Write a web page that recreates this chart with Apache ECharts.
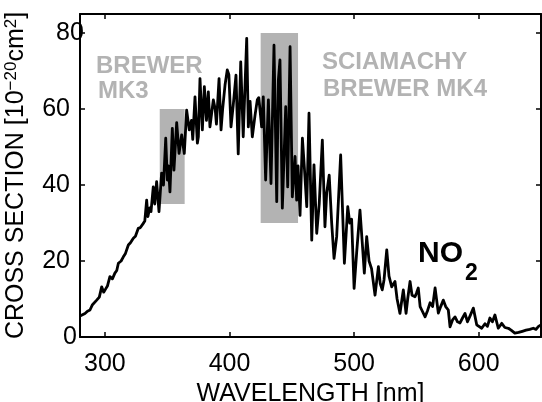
<!DOCTYPE html>
<html>
<head>
<meta charset="utf-8">
<script src="https://cdn.jsdelivr.net/npm/echarts@6/dist/echarts.min.js"></script>
<style>html,body{margin:0;padding:0;background:#fff}#c{width:542px;height:402px}</style>
</head>
<body>
<div id="c"></div>
<script>
// Wavelength (nm)
const wavelength = [280,281.4,284,286,288,290,291.5,293.4,295.5,297.4,299,300.5,302,304,306,308,309.5,310.8,313,314.8,316.5,317.5,318.8,320.5,322.8,324.5,326.8,328.5,330.8,332,333.5,334.5,336,337,338.8,340,341.5,343.4,345.5,347,348.8,350.1,351,352.2,354.1,355.4,357.6,359.5,361.6,363.7,365.6,367.7,369.5,370.5,372.3,374.2,375,376.3,378.2,379.8,381.5,383,384.3,387,388.5,389.5,391.6,393.2,394.5,396.4,398.2,399.5,401.2,403,405.2,407,409,411,413.8,415.1,416.5,418.3,420.5,422.3,423.5,425.8,427.1,429,431.2,433.3,435.7,437.9,439.2,440.5,442.4,445.1,446.7,448.6,450.4,452.6,453.9,455,456.6,458.5,460,462,463.8,466,467.8,470,472,474.5,476.6,478,480,482,483.9,486,489.2,492.2,494.9,496.5,498,500,502,504.7,506.5,508.2,510.1,512,514,516.8,519.5,521,522.6,524,526.2,528,530.2,532.8,534.5,536.8,538,539.5,541.7,543,544.9,546.5,548.9,550,551.5,553,554.3,557,559,561,563,565,567.6,569.5,571.6,573.5,575.6,577,579,581,583,585,587,589,591,593,595.7,598.4,600,602.4,605,607,609,611,613,615.7,618.5,621,623.8,626,629,632,635,638,641,643.8,646,648,650];
// NO2 cross section (1e-20 cm^2)
const crossSection = [5.5,5,6.2,6.8,7.1,8.5,8.2,9.7,10.5,13.2,11.8,12.6,13.4,15.9,15.3,16.8,17.5,19.4,20,21.1,22,21.6,24.2,24.8,26,26.5,28.6,28.8,29.9,30.5,36,31.7,34,33,39.5,35,40.9,33,43.1,40,52.3,41.3,45,38.2,54.9,43.9,56.4,48.3,53.2,48.3,59.7,54.5,57,52,63.2,51,52.7,68,54.5,65.9,57,64.5,55.3,62.4,60,56,68,54.5,60,66.3,70.3,69,55.3,61,68.9,48.2,72.4,52.7,78.6,55.3,62,52.7,58.4,62.4,63,55.3,63.2,41.3,62.4,40.4,76.8,35.6,67.6,72.9,33.9,60.6,39.5,76.4,36.9,47.5,36,45,32,52.3,45,34.3,58.9,25.5,45.3,27.3,35,51.8,29,38,42.6,30,20.7,26.4,47.9,19.4,34.3,30,31,12.8,22,33.4,25,16.8,26.4,20,18,11,18.5,14,12.4,15,22.9,16,13.2,14.6,10,6.2,9,12.4,6.2,10,14.6,11,10.6,11.5,12.9,8,7.1,5.3,7,9,8,12.9,6.3,8,9.7,8,7.1,2.7,4.5,5.3,4,3.7,5,6.2,4,5.5,7.6,3.2,3,2.3,3.5,2.8,5,4,5.8,2.3,3.6,2.5,2.3,1.8,1,1.2,1.5,1.8,2,2.3,2,2.8,3.2];
// Instrument bands: [xStart, xEnd, yLow, yHigh]
const bandMK3 = [344, 364, 35, 60];
const bandSCIA = [425, 455, 30, 80];
const xTicks = [300, 400, 500, 600];
const yTicks = [0, 20, 40, 60, 80];

const lineData = wavelength.map((w, i) => [w, crossSection[i]]);
const font = '"Liberation Sans", Arial, Helvetica, sans-serif';
const grey = '#b3b3b3';

const chart = echarts.init(document.getElementById('c'), null, {renderer: 'canvas'});
const tickStyle = {show: true, inside: true, length: 5, lineStyle: {color: '#000', width: 1.5}};
const lineAx = {show: true, onZero: false, lineStyle: {color: '#000', width: 2}};
chart.setOption({
  animation: false,
  grid: {left: 80, right: 1, top: 14, bottom: 65, containLabel: false, outerBoundsMode: 'none'},
  xAxis: [
    {
      type: 'value', min: 280, max: 650, position: 'bottom',
      axisLine: lineAx, splitLine: {show: false},
      axisTick: Object.assign({}, tickStyle, {customValues: xTicks}),
      axisLabel: {customValues: xTicks, color: '#000', fontSize: 25, fontFamily: font, margin: 15,
        alignMinLabel: 'center', alignMaxLabel: 'center', hideOverlap: false},
      name: 'WAVELENGTH [nm]', nameLocation: 'middle', nameGap: 45, nameMoveOverlap: false,
      nameTextStyle: {color: '#000', fontSize: 25, fontFamily: font}
    },
    {
      type: 'value', min: 280, max: 650, position: 'top',
      axisLine: lineAx, splitLine: {show: false},
      axisTick: Object.assign({}, tickStyle, {customValues: xTicks}),
      axisLabel: {show: false}
    }
  ],
  yAxis: [
    {
      type: 'value', min: 0, max: 85, position: 'left',
      axisLine: lineAx, splitLine: {show: false},
      axisTick: Object.assign({}, tickStyle, {customValues: yTicks}),
      axisLabel: {customValues: yTicks, color: '#000', fontSize: 25, fontFamily: font, margin: 10,
        alignMinLabel: 'center', alignMaxLabel: 'center', hideOverlap: false},
      name: 'CROSS SECTION [10{s|−20}cm{s|2}]', nameLocation: 'middle', nameGap: 50, nameRotate: 90,
      nameMoveOverlap: false,
      nameTextStyle: {color: '#000', fontSize: 25, fontFamily: font,
        rich: {s: {fontSize: 17, fontFamily: font, color: '#000', verticalAlign: 'top', padding: [0,0,10,0]}}}
    },
    {
      type: 'value', min: 0, max: 85, position: 'right',
      axisLine: lineAx, splitLine: {show: false},
      axisTick: Object.assign({}, tickStyle, {customValues: yTicks}),
      axisLabel: {show: false}
    }
  ],
  series: [
    {
      type: 'line', data: [], z: 1, silent: true,
      markArea: {
        silent: true,
        itemStyle: {color: grey, opacity: 1},
        data: [
          [{xAxis: bandMK3[0], yAxis: bandMK3[2]}, {xAxis: bandMK3[1], yAxis: bandMK3[3]}],
          [{xAxis: bandSCIA[0], yAxis: bandSCIA[2]}, {xAxis: bandSCIA[1], yAxis: bandSCIA[3]}]
        ]
      }
    },
    {
      type: 'line', data: lineData, z: 5, showSymbol: false, symbol: 'none', clip: true,
      lineStyle: {color: '#000', width: 2.8, join: 'round'}
    }
  ],
  graphic: [
    {type: 'text', x: 96, y: 66, z: 10, style: {text: 'BREWER', font: 'bold 24px ' + font, fill: grey, verticalAlign: 'middle'}},
    {type: 'text', x: 98, y: 91, z: 10, style: {text: 'MK3', font: 'bold 24px ' + font, fill: grey, verticalAlign: 'middle'}},
    {type: 'text', x: 322, y: 62, z: 10, style: {text: 'SCIAMACHY', font: 'bold 24px ' + font, fill: grey, verticalAlign: 'middle'}},
    {type: 'text', x: 323, y: 89, z: 10, style: {text: 'BREWER MK4', font: 'bold 24px ' + font, fill: grey, verticalAlign: 'middle'}},
    {type: 'text', x: 418, y: 254, z: 10, style: {text: 'NO', font: 'bold 30px ' + font, fill: '#000', verticalAlign: 'middle'}},
    {type: 'text', x: 465, y: 274, z: 10, style: {text: '2', font: 'bold 23px ' + font, fill: '#000', verticalAlign: 'middle'}}
  ]
});
</script>
</body>
</html>
